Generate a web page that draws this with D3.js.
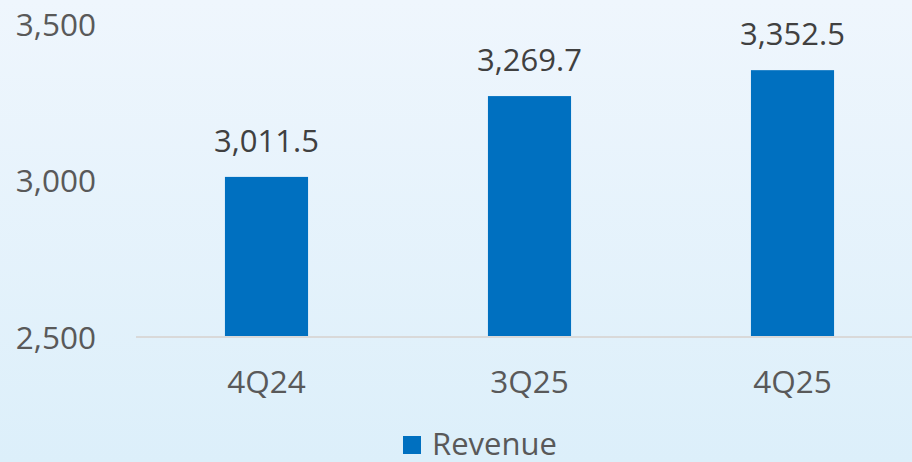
<!DOCTYPE html>
<html>
<head>
<meta charset="utf-8">
<script src="https://cdn.jsdelivr.net/npm/d3@7"></script>
<style>
    html, body { margin: 0; padding: 0; }
    body { width: 912px; height: 462px; overflow: hidden; }
    text { font-family: "Open Sans", "Noto Sans", sans-serif; }
</style>
</head>
<body>
<svg width="912" height="462"></svg>
<script>
// data
let categories = ["4Q24", "3Q25", "4Q25"];
let revenue = [3011.5, 3269.7, 3352.5];
let yTicks = [2500, 3000, 3500];
let seriesName = "Revenue";

let svg = d3.select("svg"),
    width = +svg.attr("width"),
    height = +svg.attr("height");

// light blue background gradient
let defs = svg.append("defs");
let grad = defs.append("linearGradient")
    .attr("id", "bg")
    .attr("x1", 0).attr("y1", 0)
    .attr("x2", 0).attr("y2", 1);
grad.append("stop").attr("offset", "0%").attr("stop-color", "#eff6fd");
grad.append("stop").attr("offset", "100%").attr("stop-color", "#dceffa");

svg.append("rect")
    .attr("width", width)
    .attr("height", height)
    .attr("fill", "url(#bg)");

let x = d3.scaleBand()
    .domain(categories)
    .range([135, 924])
    .paddingInner(0.684)
    .paddingOuter(0.342);

let y = d3.scaleLinear()
    .domain([2500, 3500])
    .range([337, 24]);

// y axis labels, no line
let yAxis = svg.append("g")
    .attr("transform", "translate(96,0)")
    .call(d3.axisLeft(y).tickValues(yTicks).tickSize(0).tickPadding(0).tickFormat(d3.format(",")));
yAxis.select(".domain").remove();
yAxis.selectAll("text")
    .attr("font-size", 31.5)
    .attr("fill", "#595959")
    .attr("dy", "0.35em");

// bars
svg.append("g")
    .selectAll("rect")
    .data(revenue)
    .enter()
    .append("rect")
    .attr("x", (d, i) => x(categories[i]))
    .attr("y", d => y(d))
    .attr("width", x.bandwidth())
    .attr("height", d => y(2500) - y(d))
    .attr("fill", "#0070c0");

// x axis line + labels
let xAxis = svg.append("g")
    .attr("transform", "translate(0," + y(2500) + ")")
    .call(d3.axisBottom(x).tickSize(0).tickPadding(0));
xAxis.select(".domain")
    .attr("d", "M136,0H912")
    .attr("stroke", "#d9d9d9")
    .attr("stroke-width", 2);
xAxis.selectAll("text")
    .attr("font-size", 31.5)
    .attr("fill", "#595959")
    .attr("dy", null)
    .attr("y", 56);

// value labels
svg.append("g")
    .selectAll("text")
    .data(revenue)
    .enter()
    .append("text")
    .attr("x", (d, i) => x(categories[i]) + x.bandwidth() / 2)
    .attr("y", d => y(d) - 25)
    .attr("text-anchor", "middle")
    .attr("font-size", 31)
    .attr("fill", "#404040")
    .text(d => d3.format(",.1f")(d));

// legend
let legend = svg.append("g").attr("transform", "translate(403,436)");
legend.append("rect")
    .attr("width", 18)
    .attr("height", 18)
    .attr("fill", "#0070c0");
legend.append("text")
    .attr("x", 29)
    .attr("y", 19)
    .attr("font-size", 31)
    .attr("fill", "#595959")
    .text(seriesName);
</script>
</body>
</html>
